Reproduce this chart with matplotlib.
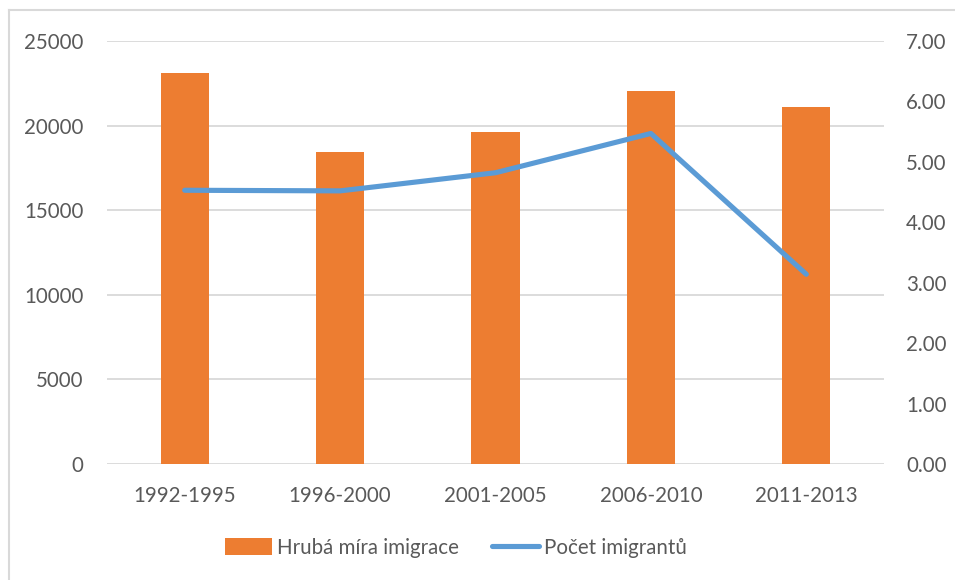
import matplotlib
matplotlib.use("Agg")
import matplotlib.pyplot as plt
from matplotlib.lines import Line2D
from matplotlib.patches import Patch
import numpy as np

categories = ["1992-1995", "1996-2000", "2001-2005", "2006-2010", "2011-2013"]
hruba_mira = [23100, 18430, 19600, 22030, 21080]
pocet_imigrantu = [4.53, 4.52, 4.82, 5.47, 3.14]
left_ticks = [0, 5000, 10000, 15000, 20000, 25000]
right_ticks = [0, 1, 2, 3, 4, 5, 6, 7]

plt.rcParams['font.family'] = ['Lato', 'DejaVu Sans']
txt = "#595959"
grid_c = "#d9d9d9"
orange = "#ed7d31"
blue = "#5b9bd5"
fs = 14.8

fig = plt.figure(figsize=(9.55, 5.8), dpi=100)
ax = fig.add_axes([107/955, 1-464/580, 777/955, 423/580])
x = np.arange(len(categories))
ax.bar(x, hruba_mira, width=0.31, color=orange, zorder=2)
ax.set_ylim(0, 25000)
ax.set_xlim(-0.5, 4.5)
ax.set_yticks(left_ticks)
ax.set_yticklabels([str(v) for v in left_ticks])
ax.set_xticks(x)
ax.set_xticklabels(categories)
for v in left_ticks:
    ax.axhline(v, color=grid_c, lw=1.3, zorder=1)
for s in ax.spines.values():
    s.set_visible(False)
ax.tick_params(axis='both', length=0, labelsize=fs, colors=txt)
ax.tick_params(axis='y', pad=17)
ax.tick_params(axis='x', pad=16)

ax2 = ax.twinx()
ax2.plot(x, pocet_imigrantu, color=blue, lw=3.7, solid_capstyle='round', solid_joinstyle='round', zorder=3)
ax2.set_ylim(0, 7)
ax2.set_yticks(right_ticks)
ax2.set_yticklabels([f"{v:.2f}" for v in right_ticks])
for s in ax2.spines.values():
    s.set_visible(False)
ax2.tick_params(axis='y', length=0, labelsize=fs, colors=txt, pad=16)

handles = [Patch(facecolor=orange, edgecolor='none'),
           Line2D([0], [0], color=blue, lw=3.7, solid_capstyle='round')]
fig.legend(handles, ["Hrubá míra imigrace", "Počet imigrantů"], loc='center',
           bbox_to_anchor=(456/955, 1-548/580), ncol=2, frameon=False,
           fontsize=fs, labelcolor=txt, handlelength=2.3, handleheight=0.9,
           handletextpad=0.25, columnspacing=1.6)

# chart border (partially visible)
fig.add_artist(Line2D([9/955, 9/955], [0, 1-10/580], color=grid_c, lw=1.5, transform=fig.transFigure))
fig.add_artist(Line2D([9/955, 1], [1-10/580, 1-10/580], color=grid_c, lw=1.5, transform=fig.transFigure))

fig.savefig("out.png", dpi=100)
